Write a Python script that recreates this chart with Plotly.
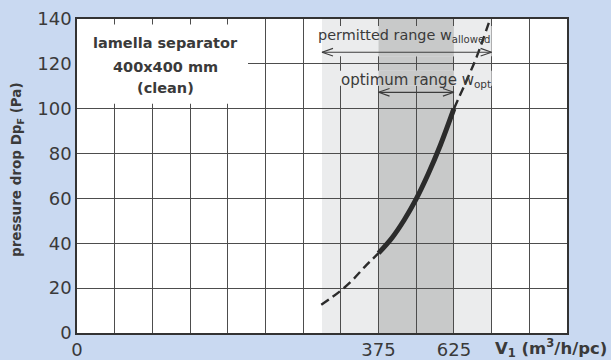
import plotly.graph_objects as go

# ---- data -------------------------------------------------------------
flow_low = [185, 215, 250, 290, 330, 375]          # dashed, below optimum
dp_low = [12.6, 15.4, 18.9, 23.8, 29.6, 35.6]
flow_opt = [375, 420, 460, 500, 540, 580, 625]     # solid, optimum range
dp_opt = [35.6, 42.5, 50.4, 59.8, 71.0, 83.7, 100]
flow_high = [625, 660, 700, 745]                   # dashed, above optimum
dp_high = [100, 110.5, 123, 140]

x_tick_vals = [-625, 375, 625]
x_tick_text = ["0", "375", "625"]
y_tick_vals = [0, 20, 40, 60, 80, 100, 120, 140]

permitted_range = [187.5, 750]
optimum_range = [375, 625]
arrow_permitted_y = 125.2
arrow_optimum_y = 107.3

X_RANGE = [-625, 1000]
Y_RANGE = [0, 140]

# ---- layout geometry ----------------------------------------------------
W, H = 611, 360
ML, MR, MT, MB = 77, 44, 19, 27
PW, PH = W - ML - MR, H - MT - MB
XPP = (X_RANGE[1] - X_RANGE[0]) / PW   # data units per pixel
YPP = (Y_RANGE[1] - Y_RANGE[0]) / PH

BG = "#c9d9f1"
LIGHT = "#ebeced"
DARK = "#c8c9c9"
INK = "#2b2b2b"
TXT = "#3a3a3a"
GRID = "#4d4d4d"

fig = go.Figure()

# curve
dash_style = dict(color=INK, width=2.4, dash="9px,5px")
fig.add_trace(go.Scatter(x=flow_low, y=dp_low, mode="lines",
                         line=dict(shape="spline", **dash_style), hoverinfo="skip"))
fig.add_trace(go.Scatter(x=flow_high, y=dp_high, mode="lines",
                         line=dict(shape="spline", **dash_style), hoverinfo="skip"))
fig.add_trace(go.Scatter(x=flow_opt, y=dp_opt, mode="lines",
                         line=dict(color=INK, width=5, shape="spline"), hoverinfo="skip"))


# double-headed arrows with open chevrons
def add_arrow(x0, x1, y):
    hl, hh = 11 * XPP, 3.8 * YPP
    xs = [x0, x1, None, x0 + hl, x0, x0 + hl, None, x1 - hl, x1, x1 - hl]
    ys = [y, y, None, y + hh, y, y - hh, None, y + hh, y, y - hh]
    fig.add_trace(go.Scatter(x=xs, y=ys, mode="lines",
                             line=dict(color="#3c3c3c", width=1.1),
                             hoverinfo="skip"))


add_arrow(permitted_range[0], permitted_range[1], arrow_permitted_y)
add_arrow(optimum_range[0], optimum_range[1], arrow_optimum_y)

shapes = [
    # bands (below grid)
    dict(type="rect", xref="x", yref="paper", x0=permitted_range[0], x1=permitted_range[1],
         y0=0, y1=1, fillcolor=LIGHT, line_width=0, layer="below"),
    dict(type="rect", xref="x", yref="paper", x0=optimum_range[0], x1=optimum_range[1],
         y0=0, y1=1, fillcolor=DARK, line_width=0, layer="below"),
]


# gaps in the grid behind text
def gap(x0, x1, y0, y1, color):
    shapes.append(dict(type="rect", xref="x", yref="y", x0=x0, x1=x1, y0=y0, y1=y1,
                       fillcolor=color, line_width=0, layer="between"))


gap(X_RANGE[0], X_RANGE[0] + 171 * XPP, 102.2, 137.6, "white")
for (ya, yb) in [(123.4, 136.9), (110.2, 116.9)]:
    gap(permitted_range[0], permitted_range[1], ya, yb, LIGHT)
    gap(optimum_range[0], optimum_range[1], ya, yb, DARK)

annotations = []
box_x = X_RANGE[0] + 88 * XPP
for txt, yv in [("lamella separator", 129.3), ("400x400 mm", 118.7), ("(clean)", 109.4)]:
    annotations.append(dict(x=box_x, y=yv, xref="x", yref="y", text="<b>" + txt + "</b>",
                            showarrow=False,
                            font=dict(family="DejaVu Sans", size=14.5, color=TXT),
                            xanchor="center", yanchor="middle"))

annotations.append(dict(x=permitted_range[1] + 1 * XPP, y=132.4, xref="x", yref="y",
                        text="permitted range w<sub>allowed</sub>", showarrow=False,
                        font=dict(family="DejaVu Sans", size=14.4, color=TXT),
                        xanchor="right", yanchor="middle"))
annotations.append(dict(x=permitted_range[1] + 1 * XPP, y=112.6, xref="x", yref="y",
                        text="optimum range w<sub>opt</sub>", showarrow=False,
                        font=dict(family="DejaVu Sans", size=15, color=TXT),
                        xanchor="right", yanchor="middle"))

# axis titles
annotations.append(dict(x=(17 - ML) / PW, y=(H - MB - 170) / PH, xref="paper", yref="paper",
                        text="<b>pressure drop Dp<sub>F</sub> (Pa)</b>", showarrow=False,
                        textangle=-90, font=dict(family="DejaVu Sans", size=13.5, color=TXT),
                        xanchor="center", yanchor="middle"))
annotations.append(dict(x=(609 - ML) / PW, y=-(347.5 - (H - MB)) / PH, xref="paper", yref="paper",
                        text="<b>V<sub>1</sub> (m<sup>3</sup>/h/pc)</b>", showarrow=False,
                        font=dict(family="DejaVu Sans", size=16.5, color=TXT),
                        xanchor="right", yanchor="middle"))

fig.update_layout(
    width=W, height=H, autosize=False,
    margin=dict(l=ML, r=MR, t=MT, b=MB, pad=0, autoexpand=False),
    paper_bgcolor=BG, plot_bgcolor="white",
    showlegend=False,
    shapes=shapes, annotations=annotations,
    xaxis=dict(range=X_RANGE, tickvals=x_tick_vals, ticktext=x_tick_text,
               showgrid=False, zeroline=False, automargin=False,
               minor=dict(tick0=X_RANGE[0], dtick=125, showgrid=True,
                          gridcolor=GRID, gridwidth=1.2, ticks=""),
               showline=True, mirror=True, linecolor="#333333", linewidth=1.6,
               ticks="",
               tickfont=dict(family="DejaVu Sans", size=18, color=TXT)),
    yaxis=dict(range=Y_RANGE, tickvals=y_tick_vals, showgrid=True, automargin=False,
               gridcolor=GRID, gridwidth=1.2, zeroline=False,
               showline=True, mirror=True, linecolor="#333333", linewidth=1.6,
               ticks="", tickfont=dict(family="DejaVu Sans", size=18, color=TXT)),
)

fig.write_html("out.html", config={"displayModeBar": False},
               post_script="document.body.style.margin='0';document.body.style.padding='0';")
